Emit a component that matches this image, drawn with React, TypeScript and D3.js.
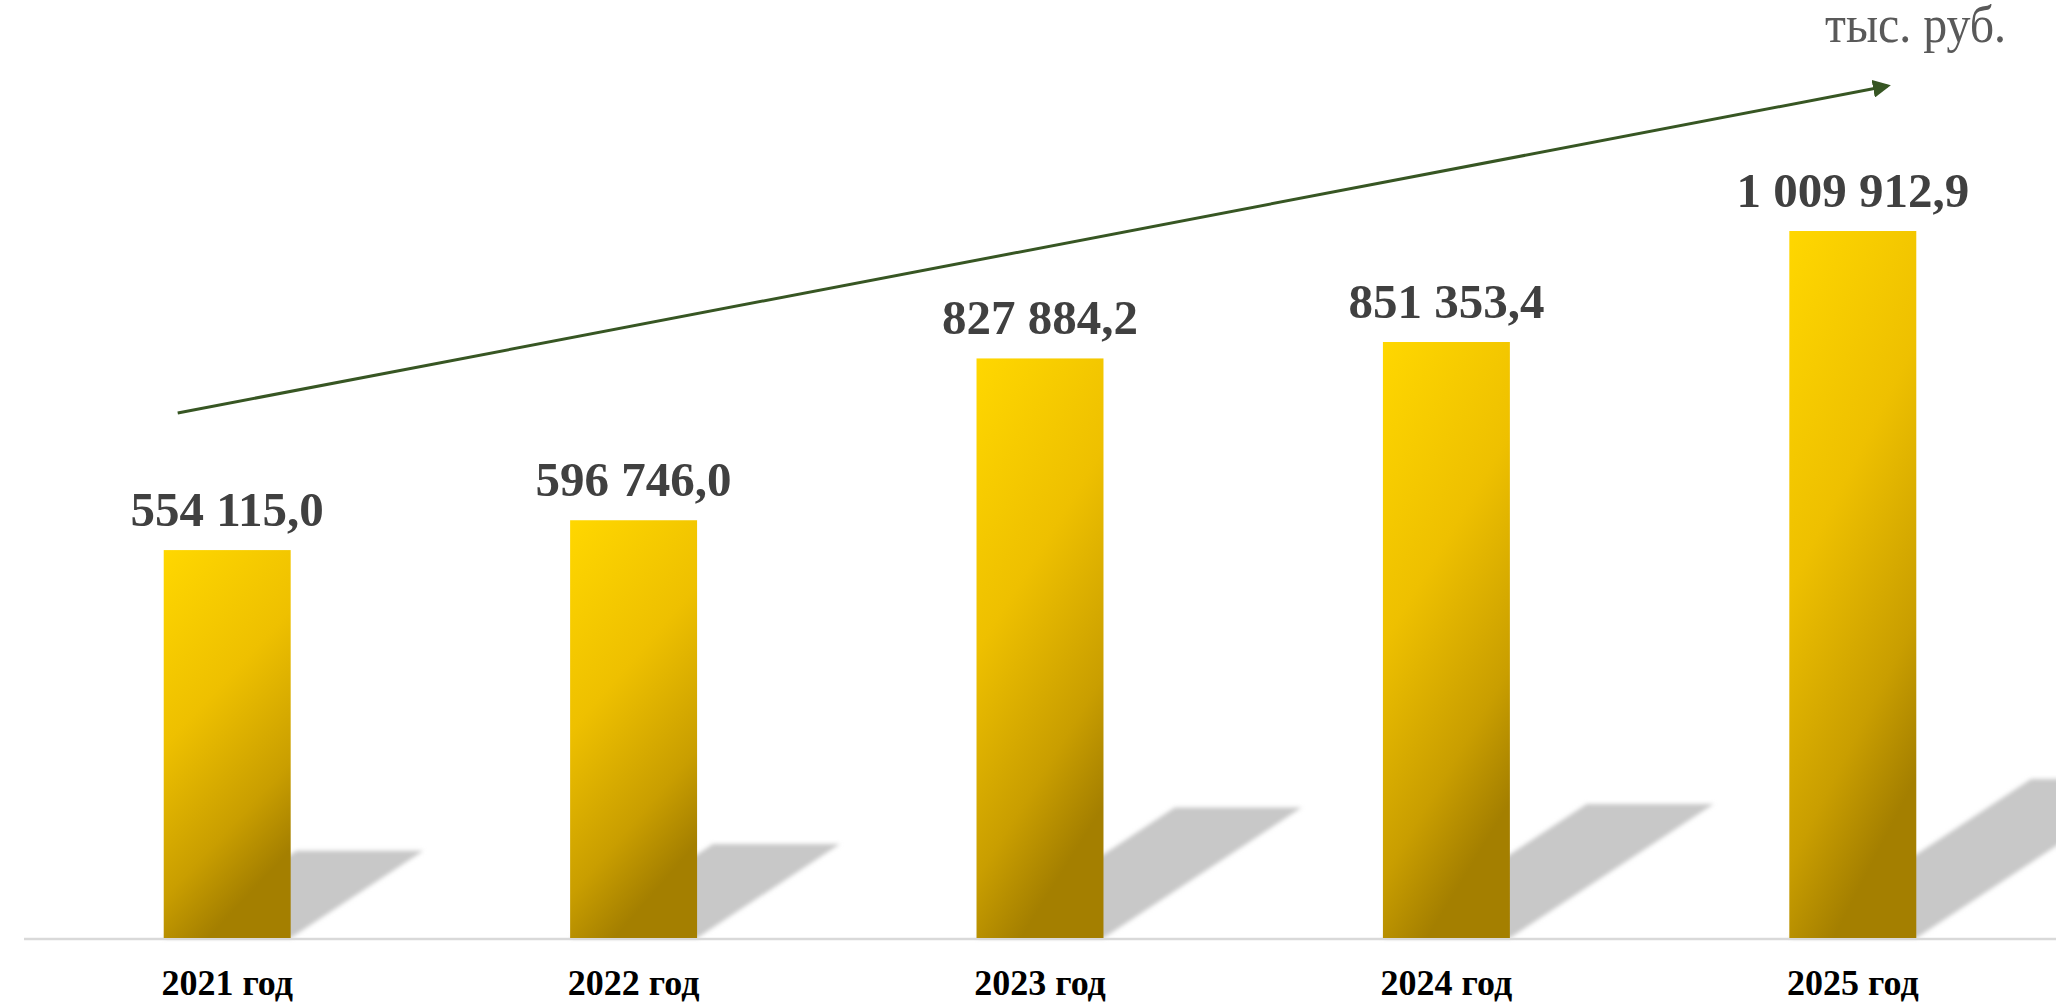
import React, { useEffect } from "react";
import * as d3 from "d3";

const categories: string[] = ["2021 год", "2022 год", "2023 год", "2024 год", "2025 год"];
const values: number[] = [554115.0, 596746.0, 827884.2, 851353.4, 1009912.9];
const valueLabels: string[] = ["554 115,0", "596 746,0", "827 884,2", "851 353,4", "1 009 912,9"];
const unitLabel = "тыс. руб.";
// decorative trend arrow, in data units (start / end value level)
const trendLevels: number[] = [750000, 1217000];

const W = 2056;
const H = 1002;
const BASE = 938;
const SERIF = "'Liberation Serif', 'Times New Roman', serif";

export default function App() {
  useEffect(() => {
    document.body.style.margin = "0";
    document.body.style.overflow = "hidden";
  }, []);

  const x = d3
    .scaleBand<string>()
    .domain(categories)
    .range([24, 2056])
    .paddingInner(0.6876)
    .paddingOuter(0.3438);
  const y = d3.scaleLinear().domain([0, 1339900]).range([BASE, 0]);
  const bw = x.bandwidth();

  const shadowRatio = 0.225;
  const skew = 1.52;

  const ax1 = (x(categories[0]) as number) + 14;
  const ax2 = (x(categories[categories.length - 1]) as number) + 98;
  const ay1 = y(trendLevels[0]);
  const ay2 = y(trendLevels[1]);

  return (
    <svg
      width={W}
      height={H}
      style={{ position: "absolute", left: 0, top: 0, background: "#ffffff" }}
    >
      <defs>
        <linearGradient id="barGrad" x1="0" y1="0" x2="0.35" y2="1">
          <stop offset="0" stopColor="#FFD700" />
          <stop offset="0.45" stopColor="#EEC000" />
          <stop offset="0.8" stopColor="#C99E00" />
          <stop offset="1" stopColor="#A47F00" />
        </linearGradient>
        <filter id="shadowBlur" x="-10%" y="-10%" width="120%" height="120%">
          <feGaussianBlur stdDeviation="2.2" />
        </filter>
        <marker
          id="arrowHead"
          viewBox="0 0 10 10"
          refX="8"
          refY="5"
          markerWidth="6"
          markerHeight="6"
          markerUnits="strokeWidth"
          orient="auto"
        >
          <path d="M0,0 L10,5 L0,10 Z" fill="#375623" />
        </marker>
      </defs>

      {/* shadows */}
      {values.map((v, i) => {
        const x0 = x(categories[i]) as number;
        const x1 = x0 + bw;
        const h = BASE - y(v);
        const dy = h * shadowRatio;
        const dx = dy * skew;
        const d = `M${x0},${BASE} L${x1},${BASE} L${x1 + dx},${BASE - dy} L${x0 + dx},${BASE - dy} Z`;
        return <path key={"s" + i} d={d} fill="#c8c8c8" filter="url(#shadowBlur)" />;
      })}

      {/* axis line */}
      <line x1={24} x2={W} y1={BASE + 1} y2={BASE + 1} stroke="#d9d9d9" strokeWidth={2.5} />

      {/* bars */}
      {values.map((v, i) => (
        <rect
          key={"b" + i}
          x={x(categories[i]) as number}
          y={y(v)}
          width={bw}
          height={BASE - y(v)}
          fill="url(#barGrad)"
        />
      ))}

      {/* value labels */}
      {values.map((v, i) => (
        <text
          key={"v" + i}
          x={(x(categories[i]) as number) + bw / 2}
          y={y(v) - 24}
          textAnchor="middle"
          fontFamily={SERIF}
          fontWeight="bold"
          fontSize={49}
          fill="#404040"
        >
          {valueLabels[i]}
        </text>
      ))}

      {/* category labels */}
      {categories.map((c) => (
        <text
          key={c}
          x={(x(c) as number) + bw / 2}
          y={995}
          textAnchor="middle"
          fontFamily={SERIF}
          fontWeight="bold"
          fontSize={36}
          fill="#000000"
        >
          {c}
        </text>
      ))}

      {/* trend arrow */}
      <line
        x1={ax1}
        y1={ay1}
        x2={ax2}
        y2={ay2}
        stroke="#375623"
        strokeWidth={3}
        markerEnd="url(#arrowHead)"
      />

      {/* unit */}
      <text
        x={2006}
        y={42}
        textAnchor="end"
        fontFamily={SERIF}
        fontSize={52}
        fill="#595959"
        textLength={181}
        lengthAdjust="spacingAndGlyphs"
      >
        {unitLabel}
      </text>
    </svg>
  );
}
